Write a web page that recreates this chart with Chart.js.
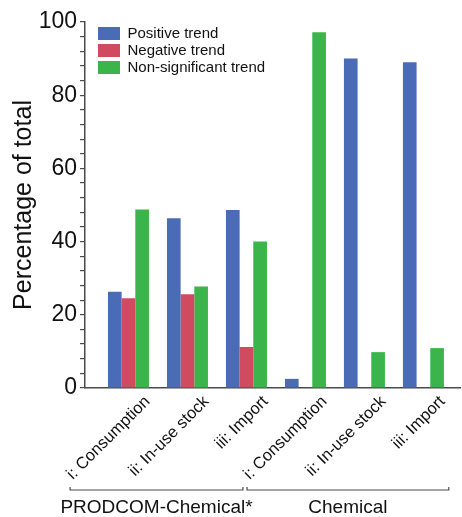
<!DOCTYPE html>
<html>
<head>
<meta charset="utf-8">
<script src="https://cdn.jsdelivr.net/npm/chart.js@4"></script>
<style>
  html, body { margin: 0; padding: 0; background: #fff; }
</style>
</head>
<body>
<canvas id="chart" width="462" height="517"></canvas>
<script>
const categories = ["i: Consumption", "ii: In-use stock", "iii: Import", "i: Consumption", "ii: In-use stock", "iii: Import"];
const positiveTrend = [26.3, 46.4, 48.6, 2.5, 90.0, 89.0];
const negativeTrend = [24.5, 25.6, 11.2, 0, 0, 0];
const nonSignificantTrend = [48.8, 27.7, 40.0, 97.2, 9.8, 10.9];
const groupLabels = ["PRODCOM-Chemical*", "Chemical"];
const groupSpans = [[-0.99, 1.94], [2.01, 5.43]]; // in category units

const FONT = "'Liberation Sans', Arial, Helvetica, sans-serif";
const AXIS = "#4a4a4a";

const toPoints = arr => arr.map((v, i) => ({ x: i, y: v }));

// put the legend inside the plot, top-left
const legendInside = {
  id: "legendInside",
  beforeDraw(chart) {
    const lg = chart.legend;
    const area = chart.chartArea;
    lg.left = area.left + 11;
    lg.top = area.top + 2;
    lg.bottom = lg.top + lg.height;
  }
};

// brackets + group names under the rotated labels
const groupBrackets = {
  id: "groupBrackets",
  afterDraw(chart) {
    const { ctx, scales: { x } } = chart;
    const y = x.bottom - 27;
    ctx.save();
    ctx.strokeStyle = AXIS;
    ctx.lineWidth = 1.2;
    ctx.fillStyle = "#111";
    ctx.font = "19px " + FONT;
    ctx.textAlign = "center";
    ctx.textBaseline = "middle";
    groupSpans.forEach(([a, b], i) => {
      const x0 = x.getPixelForValue(a);
      const x1 = x.getPixelForValue(b);
      ctx.beginPath();
      ctx.moveTo(x0, y - 3);
      ctx.lineTo(x0, y);
      ctx.lineTo(x1, y);
      ctx.lineTo(x1, y - 3);
      ctx.stroke();
      ctx.fillText(groupLabels[i], (x0 + x1) / 2, y + 18);
    });
    ctx.restore();
  }
};

new Chart(document.getElementById("chart"), {
  type: "bar",
  data: {
    datasets: [
      { label: "Positive trend", data: toPoints(positiveTrend), backgroundColor: "#4a6bb6" },
      { label: "Negative trend", data: toPoints(negativeTrend), backgroundColor: "#d14b60" },
      { label: "Non-significant trend", data: toPoints(nonSignificantTrend), backgroundColor: "#3bb54b" }
    ]
  },
  options: {
    responsive: false,
    animation: false,
    layout: { padding: { left: 0, top: 22, right: 2, bottom: 0 } },
    datasets: { bar: { categoryPercentage: 0.695, barPercentage: 1, borderWidth: 0 } },
    plugins: {
      tooltip: { enabled: false },
      legend: {
        position: "chartArea",
        align: "start",
        labels: {
          font: { family: FONT, size: 15 },
          color: "#111",
          boxWidth: 22,
          boxHeight: 13,
          padding: 2
        }
      }
    },
    scales: {
      x: {
        type: "linear",
        min: -0.737,
        max: 5.62,
        offset: false,
        grid: { display: false },
        border: { display: true, color: AXIS, width: 1.5 },
        afterFit(scale) { scale.height = 129; },
        ticks: {
          stepSize: 1,
          includeBounds: false,
          autoSkip: false,
          minRotation: 45,
          maxRotation: 45,
          labelOffset: 19,
          padding: -4,
          color: "#111",
          font: { family: FONT, size: 16.5 },
          callback: v => categories[v] ?? ""
        }
      },
      y: {
        min: 0,
        max: 100,
        afterFit(scale) { scale.width = 85; },
        grid: { drawOnChartArea: false, drawTicks: true, tickLength: 5, color: AXIS, lineWidth: 1.2 },
        border: { display: true, color: AXIS, width: 1.5 },
        title: {
          display: true,
          text: "Percentage of total",
          color: "#111",
          font: { family: FONT, size: 25 },
          padding: { top: 9, bottom: 2 }
        },
        ticks: {
          stepSize: 4,
          autoSkip: false,
          padding: 3,
          color: "#111",
          font: { family: FONT, size: 23 },
          callback: v => (v % 20 === 0 ? v : "")
        }
      }
    }
  },
  plugins: [legendInside, groupBrackets]
});
</script>
</body>
</html>
